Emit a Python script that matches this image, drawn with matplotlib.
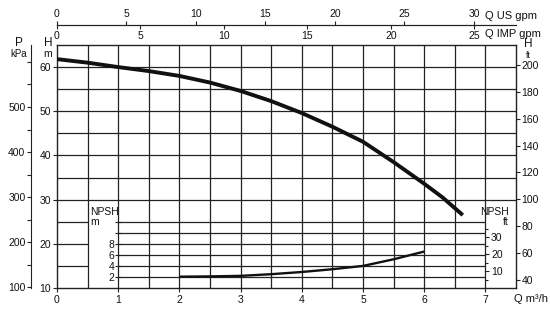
import matplotlib
matplotlib.use('Agg')
import matplotlib.pyplot as plt
import numpy as np

plt.rcParams['font.family'] = ['Liberation Sans', 'DejaVu Sans']
plt.rcParams['font.size'] = 7.5

# ---- data ----
q_head = [0, 0.5, 1, 1.5, 2, 2.5, 3, 3.5, 4, 4.5, 5, 5.5, 6, 6.3, 6.63]
head_m = [61.8, 61.0, 60.0, 59.1, 58.0, 56.5, 54.6, 52.3, 49.6, 46.5, 43.1, 38.5, 33.6, 30.5, 26.5]
q_npsh = [2, 2.5, 3, 3.5, 4, 4.5, 5, 5.5, 6]
npsh_m = [2.05, 2.1, 2.2, 2.5, 2.9, 3.4, 4.0, 5.2, 6.6]

x_ticks = [0, 1, 2, 3, 4, 5, 6, 7]
h_ticks = [10, 20, 30, 40, 50, 60]
p_ticks = [100, 200, 300, 400, 500, 600]
p_labels = ['100', '200', '300', '400', '500', '']
p_minor = [150, 250, 350, 450, 550]
ft_ticks = [40, 60, 80, 100, 120, 140, 160, 180, 200]
npsh_m_ticks = [2, 4, 6, 8, 10, 12]
npsh_m_labels = ['2', '4', '6', '8', '', '']
npsh_ft_ticks = [10, 20, 30]
npsh_ft_minor = [5, 15, 25, 35]
us_gpm_ticks = [0, 5, 10, 15, 20, 25, 30]
imp_gpm_ticks = [0, 5, 10, 15, 20, 25]

# ---- unit conversions (as drawn on the chart's scales) ----
M3H_PER_USGPM = 0.22712
M3H_PER_IMPGPM = 0.27277
KPA_PER_M = 9.81
FT_PER_M = 3.2808
FT_SCALE_A, FT_SCALE_B = 1.2, 3.287   # printed ft scale: ft = A + B * H
NPSH_BASE = 10.0      # H value where NPSH = 0
NPSH_SCALE = 1.25     # H metres per NPSH metre

W, Hpx = 550, 312
fig = plt.figure(figsize=(W / 100, Hpx / 100), dpi=100)
L, R, T, B = 57, 516, 45, 288
ax = fig.add_axes([L / W, 1 - B / Hpx, (R - L) / W, (B - T) / Hpx])
ax.set_xlim(0, 7.5)
ax.set_ylim(10, 65)

gc = '#222222'
tc = '#111111'
glw = 0.9
# vertical grid
for xv in np.arange(0.5, 7.01, 0.5):
    ax.axvline(xv, color=gc, lw=glw, zorder=1)
# horizontal grid
for hv in range(30, 65, 5):
    ax.axhline(hv, color=gc, lw=glw, zorder=1)
for hv in (15, 20, 25):
    ax.hlines(hv, 0, 0.5, color=gc, lw=glw, zorder=1)
def npsh_to_h(n):
    return NPSH_BASE + NPSH_SCALE * np.asarray(n)
def h_to_npsh(h):
    return (np.asarray(h) - NPSH_BASE) / NPSH_SCALE
for nv in npsh_m_ticks:
    ax.hlines(npsh_to_h(nv), 1, 7, color=gc, lw=glw, zorder=1)

# curves
ax.plot(q_head, head_m, color=tc, lw=2.8, solid_capstyle='butt', solid_joinstyle='round', zorder=3)
ax.plot(q_npsh, npsh_to_h(npsh_m), color=tc, lw=1.7, solid_capstyle='butt', zorder=3)

for s in ax.spines.values():
    s.set_color(gc)
    s.set_linewidth(1.0)

ax.set_xticks(x_ticks)
ax.set_yticks(h_ticks)
ax.tick_params(axis='both', direction='out', length=3, width=0.8, colors=gc,
               labelcolor=tc, labelsize=7.5, pad=1.5)
ax.tick_params(axis='x', pad=2)

# right H ft axis
ft_ax = ax.secondary_yaxis('right', functions=(lambda h: FT_SCALE_A + FT_SCALE_B * np.asarray(h),
                                               lambda f: (np.asarray(f) - FT_SCALE_A) / FT_SCALE_B))
ft_ax.set_yticks(ft_ticks)
ft_ax.tick_params(direction='out', length=3, width=0.8, labelsize=7.5, pad=1, colors=gc, labelcolor=tc)
ft_ax.spines['right'].set_visible(False)

# left P kPa axis
p_ax = ax.secondary_yaxis(-(L - 31) / (R - L),
                          functions=(lambda h: h * KPA_PER_M, lambda p: p / KPA_PER_M))
p_ax.set_yticks(p_ticks, labels=p_labels)
p_ax.set_yticks(p_minor, minor=True)
p_ax.tick_params(which='both', direction='out', length=3, width=0.8, labelsize=7.5, pad=1,
                 colors=gc, labelcolor=tc)
p_ax.spines['left'].set_color(gc)

# NPSH m axis at Q=1
nm_ax = ax.secondary_yaxis(1 / 7.5, functions=(h_to_npsh, npsh_to_h))
nm_ax.set_yticks(npsh_m_ticks, labels=npsh_m_labels)
nm_ax.tick_params(direction='inout', length=4, width=0.8, labelsize=7.5, pad=1,
                  colors=gc, labelcolor=tc)
nm_ax.spines['left'].set_visible(False)

# NPSH ft axis at Q=7
nf_ax = ax.secondary_yaxis(7 / 7.5, functions=(lambda h: h_to_npsh(h) * FT_PER_M,
                                               lambda f: npsh_to_h(np.asarray(f) / FT_PER_M)))
nf_ax.set_yticks(npsh_ft_ticks)
nf_ax.set_yticks(npsh_ft_minor, minor=True)
nf_ax.tick_params(which='both', direction='out', length=3, width=0.8, labelsize=7.5, pad=1,
                  colors=gc, labelcolor=tc)
nf_ax.tick_params(which='minor', length=2)
nf_ax.spines['right'].set_visible(False)

# top flow axes
top_loc = 1 + (T - 25) / (B - T)
us_ax = ax.secondary_xaxis(top_loc, functions=(lambda q: q / M3H_PER_USGPM, lambda g: g * M3H_PER_USGPM))
us_ax.set_xticks(us_gpm_ticks)
us_ax.tick_params(direction='out', length=3, width=0.8, labelsize=7.5, pad=1, colors=gc, labelcolor=tc)
us_ax.spines['top'].set_color(gc)
imp_ax = ax.secondary_xaxis(top_loc, functions=(lambda q: q / M3H_PER_IMPGPM, lambda g: g * M3H_PER_IMPGPM))
imp_ax.set_alignment('bottom')
imp_ax.set_xticks(imp_gpm_ticks)
imp_ax.tick_params(direction='out', length=3, width=0.8, labelsize=7.5, pad=1, colors=gc, labelcolor=tc)
imp_ax.spines['bottom'].set_color(gc)

def ftxt(x, y, s, **kw):
    kw.setdefault('fontsize', 7.5)
    kw.setdefault('color', tc)
    fig.text(x / W, 1 - y / Hpx, s, va='center', **kw)

ftxt(485, 16, 'Q US gpm', ha='left', fontsize=8)
ftxt(485, 34, 'Q IMP gpm', ha='left', fontsize=8)
ftxt(19, 43, 'P', ha='center', fontsize=8.5)
ftxt(19, 54, 'kPa', ha='center', fontsize=7)
ftxt(48, 43, 'H', ha='center', fontsize=8.5)
ftxt(48, 54, 'm', ha='center', fontsize=7.5)
ftxt(528, 44, 'H', ha='center', fontsize=8.5)
ftxt(528, 55, 'ft', ha='center', fontsize=6.5)
ftxt(514, 299, 'Q m³/h', ha='left', fontsize=8)
fig.text(90 / W, 1 - 207 / Hpx, 'NPSH\nm', ha='left', va='top', fontsize=7.5,
         multialignment='left', color=tc, linespacing=1.0)
fig.text(509 / W, 1 - 207 / Hpx, 'NPSH\nft', ha='right', va='top', fontsize=7.5,
         multialignment='right', color=tc, linespacing=1.0)

fig.savefig('out.png', dpi=100, facecolor='white')
